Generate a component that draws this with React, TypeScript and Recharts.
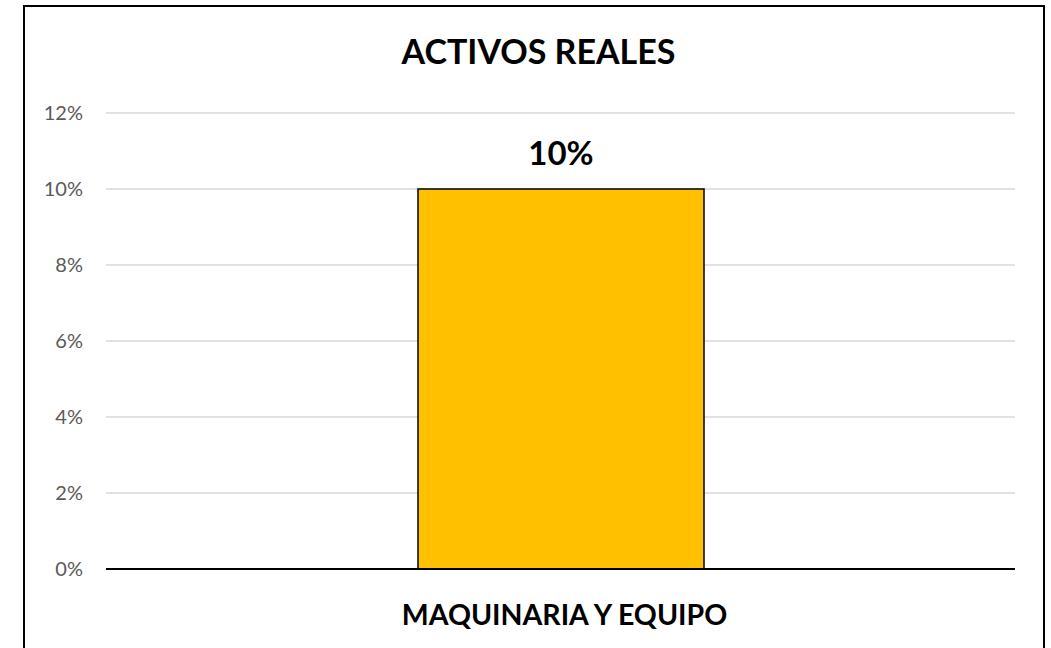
import React from "react";
import { BarChart, Bar, XAxis, YAxis, CartesianGrid, LabelList } from "recharts";

const categories = ["MAQUINARIA Y EQUIPO"];
const values = [0.1];
const yTicks = [0, 0.02, 0.04, 0.06, 0.08, 0.1, 0.12];
const title = "ACTIVOS REALES";

const data = categories.map((c, i) => ({ name: c, value: values[i] }));
const FONT = "Lato, 'Open Sans', sans-serif";

export default function App() {
  return (
    <div style={{ position: "absolute", left: 0, top: 0, width: 1051, height: 648, overflow: "hidden", background: "#fff", fontFamily: FONT }}>
      <div style={{ position: "absolute", left: 23, top: 5, width: 1022, height: 700, border: "2px solid #000", boxSizing: "border-box" }} />
      <div style={{ position: "absolute", left: 0, width: 1077, top: 31, textAlign: "center", fontWeight: 700, fontSize: 34, color: "#000", lineHeight: "40px" }}>{title}</div>
      <div style={{ position: "absolute", left: 0, top: 0 }}>
        <BarChart width={1051} height={648} data={data} margin={{ top: 113, right: 36, bottom: 49, left: 0 }}>
          <CartesianGrid vertical={false} stroke="#D9D9D9" strokeWidth={1.5} />
          <XAxis dataKey="name" axisLine={{ stroke: "#000", strokeWidth: 2 }} tickLine={false} tickMargin={30}
            tick={{ fill: "#000", fontSize: 28.5, fontWeight: 700, fontFamily: FONT, dx: 4 }} />
          <YAxis width={106} domain={[0, 0.12]} ticks={yTicks} axisLine={false} tickLine={false} tickSize={0} tickMargin={23}
            tickFormatter={(v: number) => `${Math.round(v * 100)}%`}
            tick={{ fill: "#595959", fontSize: 20, fontFamily: FONT }} />
          <Bar dataKey="value" fill="#FFC000" stroke="#000" strokeWidth={1.5} barSize={286} isAnimationActive={false}>
            <LabelList dataKey="value" position="top" offset={24}
              formatter={(v: number) => `${Math.round(v * 100)}%`}
              style={{ fill: "#000", fontSize: 33, fontWeight: 700, fontFamily: FONT }} />
          </Bar>
        </BarChart>
      </div>
    </div>
  );
}
